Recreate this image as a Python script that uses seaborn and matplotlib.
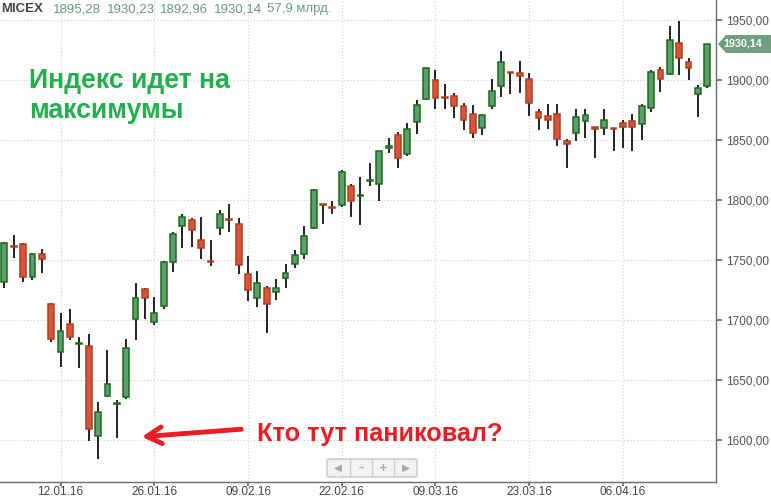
import numpy as np
import pandas as pd
import seaborn as sns
import matplotlib.pyplot as plt
from matplotlib.patches import FancyBboxPatch, Polygon

# daily candles, MICEX index, Jan-Apr 2016
opens = [1732, 1762, 1763, 1736, 1755, 1713, 1673, 1697, 1680, 1678,
         1603, 1637, 1630, 1636, 1701, 1726, 1698, 1712, 1748, 1778,
         1783, 1767, 1749, 1777, 1784, 1780, 1738, 1718, 1727, 1723,
         1735, 1747, 1755, 1777, 1797, 1794, 1796, 1812, 1803, 1816,
         1813, 1843, 1854, 1838, 1865, 1884, 1900, 1886, 1887, 1878,
         1872, 1860, 1878, 1895, 1907, 1906, 1901, 1873, 1870, 1872,
         1849, 1856, 1866, 1861, 1860, 1860, 1864, 1866, 1863, 1877,
         1908, 1905, 1931, 1915, 1888, 1895.28]
highs = [1765, 1771, 1764, 1756, 1759, 1714, 1706, 1709, 1686, 1688,
         1632, 1675, 1633, 1684, 1731, 1727, 1719, 1749, 1773, 1788,
         1785, 1786, 1767, 1792, 1797, 1785, 1753, 1741, 1728, 1734,
         1747, 1758, 1778, 1809, 1797, 1799, 1825, 1813, 1819, 1831,
         1841, 1852, 1857, 1864, 1883, 1910, 1908, 1897, 1889, 1881,
         1879, 1872, 1901, 1924, 1907, 1916, 1906, 1876, 1880, 1880,
         1851, 1876, 1876, 1861, 1876, 1860, 1867, 1872, 1880, 1908,
         1911, 1945, 1949, 1918, 1896, 1930.23]
lows = [1727, 1752, 1732, 1733, 1739, 1682, 1661, 1683, 1660, 1599,
        1584, 1636, 1602, 1634, 1683, 1701, 1696, 1709, 1740, 1760,
        1761, 1751, 1745, 1771, 1773, 1738, 1716, 1711, 1689, 1717,
        1727, 1743, 1751, 1776, 1780, 1788, 1794, 1786, 1779, 1812,
        1799, 1839, 1827, 1837, 1855, 1883, 1876, 1876, 1868, 1858,
        1852, 1854, 1876, 1886, 1888, 1889, 1870, 1858, 1859, 1845,
        1827, 1849, 1852, 1835, 1854, 1841, 1843, 1841, 1850, 1873,
        1890, 1904, 1904, 1900, 1869, 1892.96]
closes = [1764, 1761, 1736, 1755, 1751, 1684, 1691, 1686, 1681, 1609,
          1623, 1647, 1631, 1677, 1718, 1718, 1706, 1748, 1772, 1786,
          1775, 1760, 1748, 1788, 1783, 1746, 1725, 1731, 1713, 1727,
          1739, 1754, 1770, 1808, 1796, 1793, 1823, 1799, 1804, 1817,
          1841, 1845, 1835, 1859, 1879, 1910, 1885, 1885, 1878, 1867,
          1856, 1871, 1891, 1915, 1906, 1903, 1881, 1868, 1867, 1851,
          1847, 1869, 1871, 1859, 1867, 1859, 1861, 1861, 1878, 1907,
          1901, 1933, 1918, 1910, 1893, 1930.14]

date_ticks = [6, 16, 26, 36, 46, 56, 66]
date_labels = ['12.01.16', '26.01.16', '09.02.16', '22.02.16',
               '09.03.16', '23.03.16', '06.04.16']
price_ticks = [1600, 1650, 1700, 1750, 1800, 1850, 1900, 1950]
header_vals = ['1895,28', '1930,23', '1892,96', '1930,14', '57,9 млрд.']
last_label = '1930,14'

sns.set_theme(style='white')
plt.rcParams['font.family'] = ['Liberation Sans', 'DejaVu Sans']

df = pd.DataFrame({'open': opens, 'high': highs, 'low': lows, 'close': closes})
df['x'] = np.arange(len(df))
df['up'] = df['close'] >= df['open']
df['bottom'] = df[['open', 'close']].min(axis=1)
df['height'] = (df['close'] - df['open']).abs().clip(lower=0.9)

W, H = 771, 499
fig = plt.figure(figsize=(W / 100, H / 100), dpi=100)
fig.patch.set_facecolor('white')
ax = fig.add_axes([0, 17 / H, 716 / W, 482 / H])
ax.set_facecolor('white')

def fx(x):
    return x / W

def fy(y):
    return 1 - y / H

# grid
for p in price_ticks:
    ax.axhline(p, color='#cfcfcf', lw=0.8, ls=(0, (1, 2)), zorder=0)
for t in date_ticks:
    ax.axvline(t, color='#cfcfcf', lw=0.8, ls=(0, (1, 2)), zorder=0)

# candles
ax.vlines(df['x'], df['low'], df['high'], color='#111111', lw=1.3, zorder=2)
up = df[df['up']]
dn = df[~df['up']]
ax.bar(up['x'], up['height'], bottom=up['bottom'], width=0.62,
       color='#5c9e6e', edgecolor='#1d6a1d', lw=1.1, zorder=3)
ax.bar(dn['x'], dn['height'], bottom=dn['bottom'], width=0.62,
       color='#d9543b', edgecolor='#b03e1c', lw=1.1, zorder=3)

ax.set_xlim(-0.46, 75.93)
ax.set_ylim(1565, 1966.7)

for s in ['top', 'left']:
    ax.spines[s].set_visible(False)
for s in ['right', 'bottom']:
    ax.spines[s].set_color('#6a6a6a')
    ax.spines[s].set_linewidth(1)
ax.yaxis.tick_right()
ax.set_yticks(price_ticks)
ax.set_yticklabels([f'{p},00' for p in price_ticks])
ax.set_xticks(date_ticks)
ax.set_xticklabels(date_labels)
ax.tick_params(axis='y', which='both', right=True, left=False, length=4,
               color='#6a6a6a', labelcolor='#555555', labelsize=8.5, pad=3)
ax.tick_params(axis='x', which='both', bottom=True, length=3,
               color='#6a6a6a', labelcolor='#444444', labelsize=8.5, pad=0)

# last price tag
yt = 44
tag = Polygon([[fx(718), fy(yt)], [fx(726), fy(yt - 9)], [fx(771), fy(yt - 9)],
               [fx(771), fy(yt + 9)], [fx(726), fy(yt + 9)]],
              closed=True, transform=fig.transFigure, facecolor='#6f9e80',
              edgecolor='none', zorder=5)
fig.add_artist(tag)
fig.text(fx(723), fy(yt), last_label, color='white', fontsize=7.8,
         weight='bold', va='center', ha='left', zorder=10)

# header
fig.text(fx(1), fy(9), 'MICEX', color='#444444', fontsize=9.5,
         weight='bold', va='center')
for xp, v in zip([53, 107, 160, 214, 267], header_vals):
    fig.text(fx(xp), fy(9), v, color='#6a9a7c', fontsize=9.5, va='center')

# annotations
fig.text(fx(29), fy(88), 'Индекс идет на', color='#21b04b', fontsize=19.2,
         weight='bold', va='baseline')
fig.text(fx(29), fy(118), 'максимумы', color='#21b04b', fontsize=19.2,
         weight='bold', va='baseline')
fig.text(fx(257), fy(441), 'Кто тут паниковал?', color='#ed1c24',
         fontsize=18.2, weight='bold', va='baseline')
ax.annotate('', xy=(fx(139), fy(437)), xytext=(fx(244), fy(429)),
            xycoords='figure fraction', textcoords='figure fraction',
            arrowprops=dict(arrowstyle='->, head_length=0.9, head_width=0.5',
                            color='#ed1c24', lw=3.5, capstyle='round'))

# scroll / zoom widget
box = FancyBboxPatch((fx(327), fy(477)), fx(90), 18 / H,
                     boxstyle='round,pad=0,rounding_size=0.004',
                     transform=fig.transFigure, facecolor='#f2f2f2',
                     edgecolor='#c8c8c8', lw=1, zorder=5)
fig.add_artist(box)
for xd in [349.5, 372, 394.5]:
    fig.add_artist(plt.Line2D([fx(xd), fx(xd)], [fy(476), fy(460)],
                              color='#d0d0d0', lw=1, transform=fig.transFigure,
                              zorder=6))
for xc, sym in zip([338, 361, 383, 406], ['◀', '–', '+', '▶']):
    fig.text(fx(xc), fy(468), sym, color='#a8a8a8', fontsize=7.5,
             weight='bold', ha='center', va='center', family='DejaVu Sans',
             zorder=10)

fig.savefig('out.png', dpi=100, facecolor='white')
